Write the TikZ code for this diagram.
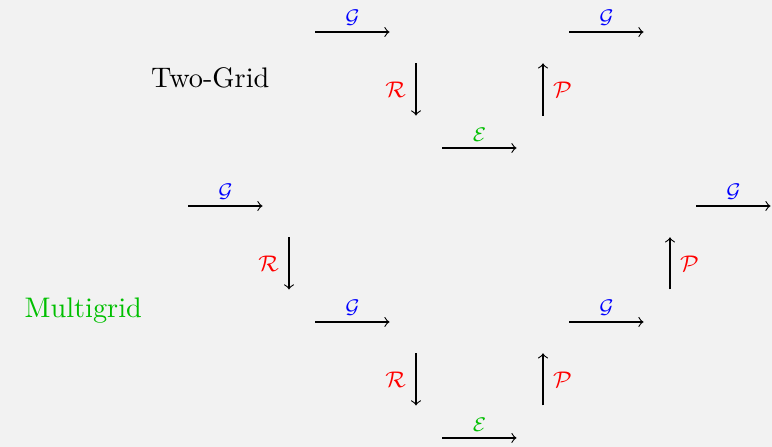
\documentclass[tikz,border=0pt]{standalone}
\usepackage{amsmath}
\begin{document}
\begin{tikzpicture}[x=0.789cm,y=-0.7205cm,
  lab/.style={font=\scriptsize,inner sep=2pt},
  vlab/.style={font=\footnotesize,text=red}]
  % 背景
  \useasboundingbox[fill=gray!10] (-0.551,-0.552) rectangle (11.606,7.155);
  % 見出し
  \node[anchor=base] (tg) at (2.76,0.96) {Two-Grid};
  \node[anchor=base,text=green!75!black] (mg) at (0.76,4.93) {Multigrid};
  % 横の矢印 (名前/列/行/記号/色)
  \foreach \n/\c/\r/\s/\col in {tga/5/0/G/blue, tgb/7/2/E/green!75!black, tgc/9/0/G/blue,
      mga/3/3/G/blue, mgb/5/5/G/blue, mgc/7/7/E/green!75!black, mgd/9/5/G/blue, mge/11/3/G/blue} {
    \coordinate (\n-s) at ({\c-0.583},\r);
    \coordinate (\n-e) at ({\c+0.583},\r);
    \draw[->] (\n-s) -- node[above,lab,text=\col] {$\mathcal{\s}$} (\n-e);
  }
  % 制限 R (下向き)
  \foreach \n/\c/\r in {tgr/6/1, mgr/4/4, mgs/6/6} {
    \coordinate (\n-s) at (\c,{\r-0.46});
    \coordinate (\n-e) at (\c,{\r+0.44});
    \draw[->] (\n-s) -- node[left,vlab] {$\mathcal{R}$} (\n-e);
  }
  % 延長 P (上向き)
  \foreach \n/\c/\r in {tgp/8/1, mgp/8/6, mgq/10/4} {
    \coordinate (\n-s) at (\c,{\r+0.44});
    \coordinate (\n-e) at (\c,{\r-0.46});
    \draw[->] (\n-s) -- node[right,vlab] {$\mathcal{P}$} (\n-e);
  }
\end{tikzpicture}
\end{document}
